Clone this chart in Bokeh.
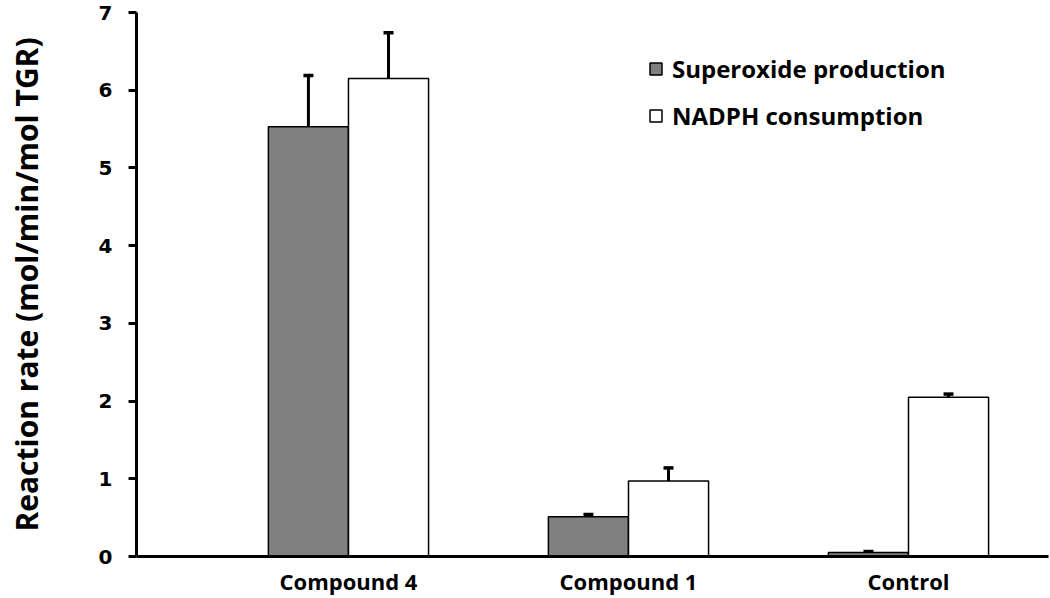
from bokeh.plotting import figure
from bokeh.models import ColumnDataSource, Range1d, FixedTicker, Whisker, TeeHead, Legend, LegendItem
from bokeh.embed import file_html
from bokeh.resources import INLINE

categories = ["Compound 4", "Compound 1", "Control"]
superoxide = [5.53, 0.51, 0.05]
superoxide_err = [0.66, 0.03, 0.015]
nadph = [6.15, 0.97, 2.05]
nadph_err = [0.59, 0.17, 0.04]
y_ticks = [0, 1, 2, 3, 4, 5, 6, 7]

bar_w = 0.286
idx = list(range(len(categories)))
x_s = [i - bar_w / 2 for i in idx]
x_n = [i + bar_w / 2 for i in idx]

src_s = ColumnDataSource(dict(x=x_s, top=superoxide,
                              upper=[v + e for v, e in zip(superoxide, superoxide_err)]))
src_n = ColumnDataSource(dict(x=x_n, top=nadph,
                              upper=[v + e for v, e in zip(nadph, nadph_err)]))

p = figure(width=1050, height=598, output_backend="svg", toolbar_location=None,
           x_range=Range1d(-0.757, 2.5), y_range=Range1d(0, 7),
           min_border_left=136, min_border_right=2, min_border_top=12, min_border_bottom=40)

p.outline_line_color = None
p.grid.visible = False
p.background_fill_color = "white"
p.border_fill_color = "white"

r_s = p.vbar(x="x", top="top", width=bar_w, bottom=0, source=src_s,
             fill_color="#808080", line_color="black", line_width=1.5)
r_n = p.vbar(x="x", top="top", width=bar_w, bottom=0, source=src_n,
             fill_color="white", line_color="black", line_width=1.5)

for src in (src_s, src_n):
    w = Whisker(source=src, base="x", lower="top", upper="upper",
                line_color="black", line_width=3,
                upper_head=TeeHead(size=10, line_width=3.5, line_color="black"),
                lower_head=None)
    p.add_layout(w)

# y axis
ya = p.yaxis[0]
ya.ticker = FixedTicker(ticks=y_ticks)
ya.minor_tick_line_color = None
ya.axis_line_width = 3
ya.axis_line_color = "black"
ya.major_tick_line_color = "black"
ya.major_tick_line_width = 3
ya.major_tick_out = 8
ya.major_tick_in = 0
ya.major_label_text_font = "DejaVu Sans"
ya.major_label_text_font_style = "bold"
ya.major_label_text_font_size = "20px"
ya.major_label_text_color = "black"
ya.major_label_standoff = 16
ya.axis_label = "Reaction rate (mol/min/mol TGR)"
ya.axis_label_text_font = "Open Sans"
ya.axis_label_text_font_style = "bold"
ya.axis_label_text_font_size = "30px"
ya.axis_label_text_color = "black"
ya.axis_label_standoff = 49

# x axis
xa = p.xaxis[0]
xa.ticker = FixedTicker(ticks=idx)
xa.major_label_overrides = {i: c for i, c in zip(idx, categories)}
xa.minor_tick_line_color = None
xa.major_tick_line_color = None
xa.major_tick_out = 0
xa.major_tick_in = 0
xa.axis_line_width = 3
xa.axis_line_color = "black"
xa.major_label_text_font = "Open Sans"
xa.major_label_text_font_style = "bold"
xa.major_label_text_font_size = "22px"
xa.major_label_text_color = "black"
xa.major_label_standoff = 9

legend = Legend(items=[LegendItem(label="Superoxide production", renderers=[r_s]),
                       LegendItem(label="NADPH consumption", renderers=[r_n])],
                location=(512, 424), orientation="vertical",
                label_text_font="Open Sans", label_text_font_style="bold",
                label_text_font_size="24px", label_text_color="black",
                glyph_width=15, glyph_height=15,
                label_height=22, spacing=14, padding=0, margin=0,
                label_standoff=9, border_line_color=None,
                background_fill_alpha=0)
p.add_layout(legend, "center")

open("out.html", "w").write(file_html(p, INLINE))
